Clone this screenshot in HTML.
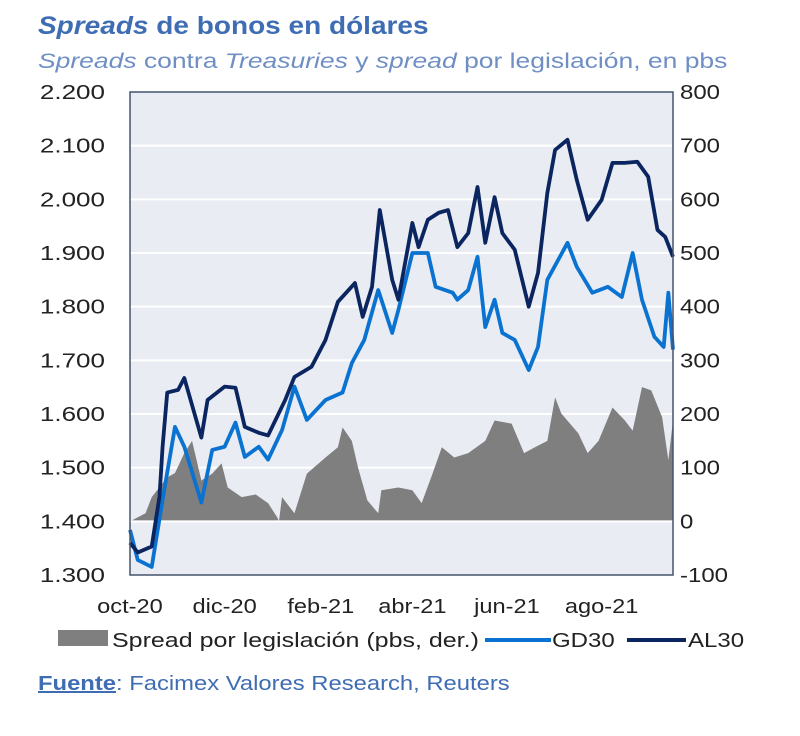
<!DOCTYPE html>
<html><head><meta charset="utf-8"><style>
body{margin:0;background:#fff;width:800px;height:731px;overflow:hidden;font-family:"Liberation Sans",sans-serif}
</style></head><body>
<svg width="800" height="731" xmlns="http://www.w3.org/2000/svg">
<text class="st" data-f="1.12" x="38" y="34" font-size="25" font-weight="bold" fill="#3f6db3"><tspan font-style="italic">Spreads</tspan> de bonos en dólares</text>
<text class="st" data-f="1.26" x="38" y="68" font-size="21" fill="#6f8fc4"><tspan font-style="italic">Spreads</tspan> contra <tspan font-style="italic">Treasuries</tspan> y <tspan font-style="italic">spread</tspan> por legislación, en pbs</text>
<rect x="130" y="92" width="543" height="483" fill="#e9ecf2"/>
<g id="grid"></g><g id="area"></g><g id="lines"></g>
<rect x="130" y="92" width="543" height="483" fill="none" stroke="#44536e" stroke-width="1.5"/>
<g id="yl" font-size="20" fill="#222" text-anchor="end"></g>
<g id="yr" font-size="20" fill="#222" text-anchor="start"></g>
<g id="xl" font-size="20" fill="#222" text-anchor="middle"></g>
<g font-size="20" fill="#222">
<rect x="58" y="630" width="50" height="16" fill="#7f7f7f"/>
<text class="st" data-f="1.25" x="112" y="647">Spread por legislación (pbs, der.)</text>
<line x1="485" y1="640" x2="551" y2="640" stroke="#0a72d1" stroke-width="4"/>
<text class="st" data-f="1.2" x="552" y="647">GD30</text>
<line x1="627" y1="640" x2="686" y2="640" stroke="#0b2560" stroke-width="4"/>
<text class="st" data-f="1.2" x="688" y="647">AL30</text>
</g>
<text class="st" data-f="1.19" x="38" y="690" font-size="20" fill="#3f6db3"><tspan font-weight="bold" text-decoration="underline">Fuente</tspan>: Facimex Valores Research, Reuters</text>
</svg>
<script>
const xTicks=["oct-20","dic-20","feb-21","abr-21","jun-21","ago-21"];
const xTickDays=[0,61,123,182,243,304];
const yLeftTicks=[1300,1400,1500,1600,1700,1800,1900,2000,2100,2200];
const yRightTicks=[-100,0,100,200,300,400,500,600,700,800];
const alDays=[0,5,14,19,21,24,31,35,46,50,61,68,74,83,89,100,106,117,126,134,145,150,156,161,169,173,182,186,192,199,205,211,218,224,229,235,240,248,257,263,269,274,282,288,295,304,311,319,327,334,340,345,350];
const al30=[1360,1342,1353,1446,1539,1640,1645,1667,1556,1626,1651,1649,1576,1565,1560,1626,1669,1688,1738,1809,1844,1781,1837,1980,1850,1813,1956,1911,1962,1975,1980,1911,1937,2023,1919,2004,1937,1906,1800,1863,2012,2092,2111,2036,1962,1999,2068,2068,2070,2042,1943,1930,1893];
const gdDays=[0,5,14,21,29,35,46,53,61,68,74,83,89,98,106,114,126,137,143,151,160,169,173,182,192,197,208,211,218,224,229,235,240,248,257,263,269,282,288,298,308,317,324,330,338,344,347,350];
const gd30=[1384,1328,1315,1440,1576,1539,1435,1533,1539,1584,1520,1539,1515,1570,1651,1589,1626,1640,1695,1738,1831,1751,1794,1900,1900,1837,1826,1813,1831,1893,1762,1813,1751,1738,1682,1725,1850,1919,1874,1826,1837,1818,1900,1813,1744,1725,1826,1720];
const spDays=[0,10,14,24,29,35,40,46,53,59,63,72,81,89,95,96,98,106,114,126,134,137,143,147,153,160,162,173,182,188,195,201,209,218,229,235,246,254,261,269,274,278,289,295,302,311,319,324,330,336,343,347,350];
const spread=[0,15,45,82,90,127,150,76,89,108,63,45,50,34,7,0,45,15,89,119,138,175,150,100,39,15,58,63,58,34,89,138,119,127,150,188,182,127,138,150,231,201,164,127,150,212,188,169,250,244,194,114,188];
const NS="http://www.w3.org/2000/svg";
const X0=130,X1=673,Y0=575,Y1=92;
const xs=d=>X0+d*(X1-X0)/350;
const yL=v=>Y0-(v-1300)*(Y0-Y1)/900;
const yR=v=>Y0-(v+100)*(Y0-Y1)/900;
function mk(t,a,p){const e=document.createElementNS(NS,t);for(const k in a)e.setAttribute(k,a[k]);document.getElementById(p).appendChild(e);return e;}
yLeftTicks.forEach((v,i)=>{
 if(i>0&&i<yLeftTicks.length-1){const g=mk('line',{x1:X0,x2:X1,y1:yL(v),y2:yL(v),stroke:'#fff','stroke-width':2},'grid');
 
 }
 const t=mk('text',{x:105,y:yL(v)+7,class:'st','data-f':'1.3'},'yl');t.textContent=v.toLocaleString('de-DE');
 
 
});
yRightTicks.forEach(v=>{const t=mk('text',{x:680,y:yR(v)+7,class:'st','data-f':'1.2'},'yr');t.textContent=v;
 
 });
xTicks.forEach((s,i)=>{const t=mk('text',{x:xs(xTickDays[i]),y:613,class:'st','data-f':'1.18'},'xl');t.textContent=s;
 
 });
let d='M'+xs(spDays[0])+','+yR(0);
spDays.forEach((dd,i)=>{d+=' L'+xs(dd)+','+yR(spread[i]);});
d+=' L'+xs(spDays[spDays.length-1])+','+yR(0)+'Z';
const a=mk('path',{d:d,fill:'#7f7f7f'},'area');


const z=mk('line',{x1:X0,x2:X1,y1:yR(0),y2:yR(0),stroke:'#fff','stroke-width':2},'area');


function line(days,vals,col,name){const p=mk('polyline',{points:days.map((dd,i)=>xs(dd)+','+yL(vals[i])).join(' '),fill:'none',stroke:col,'stroke-width':3.8,'stroke-linejoin':'round'},'lines');
 
 }
line(gdDays,gd30,'#0a72d1','gd30-line');
line(alDays,al30,'#0b2560','al30-line');
document.querySelectorAll('text.st').forEach(t=>{const f=parseFloat(t.getAttribute('data-f'));const L=t.getComputedTextLength();
 t.setAttribute('textLength',(L*f).toFixed(1));t.setAttribute('lengthAdjust','spacingAndGlyphs');});
</script>
</body></html>
